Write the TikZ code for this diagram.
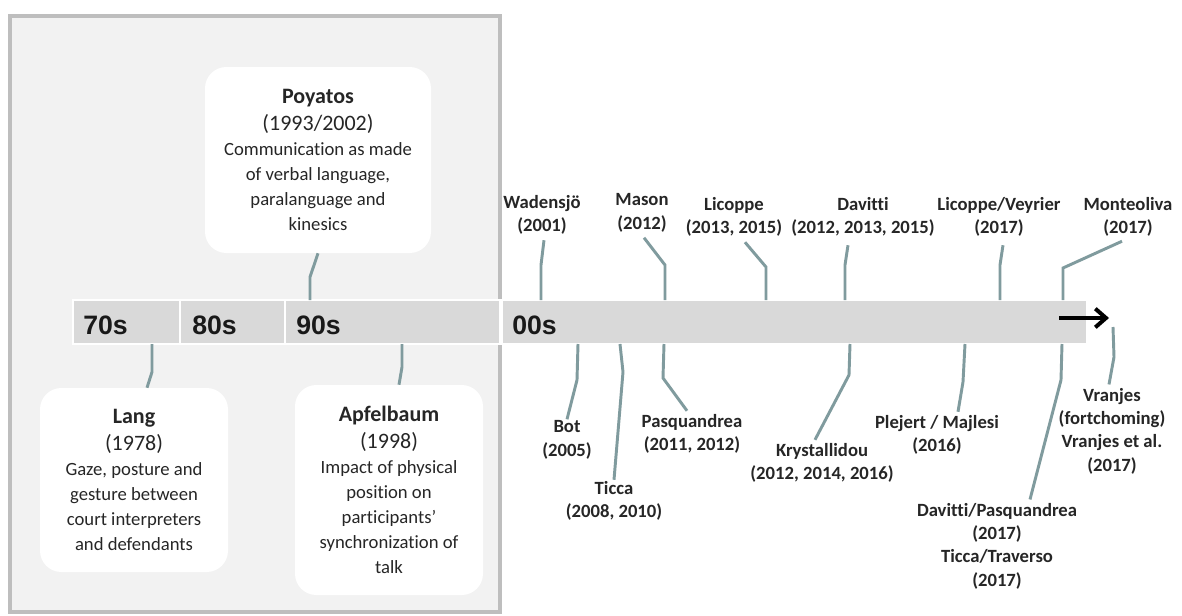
\documentclass[tikz,border=0pt]{standalone}
\usepackage{fontspec}
\setmainfont{Carlito}[Ligatures=NoCommon]
\newfontfamily\decfont{Liberation Sans}
\usetikzlibrary{calc, arrows.meta}

\definecolor{panelgray}{RGB}{242,242,242}
\definecolor{framegray}{RGB}{190,190,190}
\definecolor{bargray}{RGB}{217,217,217}
\definecolor{linkgray}{RGB}{128,155,158}
\definecolor{inkgray}{RGB}{38,38,38}

\newcommand{\cardhead}[2]{{\fontsize{16.5}{21}\selectfont\textbf{#1}}\\[1pt]{\fontsize{16.5}{19}\selectfont #2}}

\begin{document}
\begin{tikzpicture}[x=0.75pt, y=-0.75pt,
  card/.style={fill=white, rounded corners=16pt, inner sep=0pt, align=center,
    text=inkgray, font=\fontsize{14}{18.75}\selectfont},
  tag/.style={align=center, inner sep=1pt, text=inkgray,
    font=\fontsize{14}{17.5}\selectfont\bfseries},
  link/.style={draw=linkgray, line width=2.2pt},
  decade/.style={anchor=west, inner sep=0pt, text=black!90,
    font=\decfont\bfseries\fontsize{20}{24}\selectfont},
  seg/.style={fill=bargray, draw=white, line width=1.6pt}]
  \useasboundingbox (0,0) rectangle (1182,615);
  \fill[white] (0,0) rectangle (1182,615);
  % Left panel
  \draw[fill=panelgray, draw=framegray, line width=2.4pt] (10,16) rectangle (500,612);
  % Timeline bar
  \draw[seg] (73,300) rectangle (180,344);
  \draw[seg] (180,300) rectangle (285,344);
  \draw[seg] (285,300) rectangle (500,344);
  \draw[seg] (502,300) rectangle (1087,344);
  \coordinate (bartop) at (0,300);
  \coordinate (barbot) at (0,344);
  \foreach \x/\dec in {83/70s, 192/80s, 296/90s, 512/00s} {
    \node[decade] at (\x,325) {\dec};
  }
  \coordinate (arrbase) at (1059,318);
  \coordinate (arrtip) at (1109,318);
  \draw[line width=3pt, -{Straight Barb[length=8pt, width=14pt]}] (arrbase) -- (arrtip);

  % Boxes of the left panel
  \node[card, minimum width=169.5pt, minimum height=139.5pt] (poy) at (318,160)
    {\cardhead{Poyatos}{(1993/2002)}\\Communication as made\\of verbal language,\\paralanguage and\\kinesics};
  \node[card, minimum width=141pt, minimum height=138pt] (lang) at (134,480)
    {\cardhead{Lang}{(1978)}\\Gaze, posture and\\gesture between\\court interpreters\\and defendants};
  \node[card, minimum width=141pt, minimum height=157.5pt] (apf) at (389,490)
    {\cardhead{Apfelbaum}{(1998)}\\Impact of physical\\position on\\participants’\\synchronization of\\talk};
  \draw[link] (poy.south) -- (310,277) -- (310,0 |- bartop);
  \draw[link] (152,0 |- barbot) -- (152,372) -- ($(lang.north)+(13,0)$);
  \draw[link] (402,0 |- barbot) -- (402,367) -- ($(apf.north)+(10,0)$);

  % Labels above the bar
  \node[tag] (wad) at (542,215) {Wadensjö\\(2001)};
  \node[tag] (mas) at (642,213) {Mason\\(2012)};
  \node[tag] (lic) at (734,217) {Licoppe\\(2013, 2015)};
  \node[tag] (dav) at (863,217) {Davitti\\(2012, 2013, 2015)};
  \node[tag] (lve) at (999,217) {Licoppe/Veyrier\\(2017)};
  \node[tag] (mon) at (1128,217) {Monteoliva\\(2017)};
  \draw[link] ($(wad.south)+(2,4)$) -- (541,265) -- (541,0 |- bartop);
  \draw[link] ($(mas.south)+(2,4)$) -- (665,265) -- (665,0 |- bartop);
  \draw[link] ($(lic.south)+(11,4)$) -- (766,267) -- (766,0 |- bartop);
  \draw[link] ($(dav.south)+(-15,7)$) -- (845,265) -- (845,0 |- bartop);
  \draw[link] ($(lve.south)+(4,7)$) -- (1000,265) -- (1000,0 |- bartop);
  \draw[link] ($(mon.south)+(-6,3)$) -- (1063,268) -- (1063,0 |- bartop);

  % Labels below the bar
  \node[tag] (bot) at (567,440) {Bot\\(2005)};
  \node[tag] (tic) at (614,501) {Ticca\\(2008, 2010)};
  \node[tag] (pas) at (692,434) {Pasquandrea\\(2011, 2012)};
  \node[tag] (kry) at (822,463) {Krystallidou\\(2012, 2014, 2016)};
  \node[tag] (ple) at (937,435) {Plejert / Majlesi\\(2016)};
  \node[tag] (dpa) at (997,546) {Davitti/Pasquandrea\\(2017)\\Ticca/Traverso\\(2017)};
  \node[tag] (vra) at (1112,431) {Vranjes\\(fortchoming)\\Vranjes et al.\\(2017)};
  \coordinate (vrtop) at (1113,327);
  \draw[link] (578,0 |- barbot) -- (577,380) -- (bot.north);
  \draw[link] (620,0 |- barbot) -- (623,372) -- (tic.north);
  \draw[link] (664,0 |- barbot) -- (663,378) -- ($(pas.north)+(-5,-2)$);
  \draw[link] (850,0 |- barbot) -- (849,375) -- ($(kry.north)+(-7,-2)$);
  \draw[link] (965,0 |- barbot) -- (963,382) -- ($(ple.north)+(21,-2)$);
  \draw[link] (1062,0 |- barbot) -- (1061,380) -- ($(dpa.north)+(33,-2)$);
  \draw[link] (vrtop) -- (1114,357) -- ($(vra.north)+(-3,-2)$);
\end{tikzpicture}
\end{document}
